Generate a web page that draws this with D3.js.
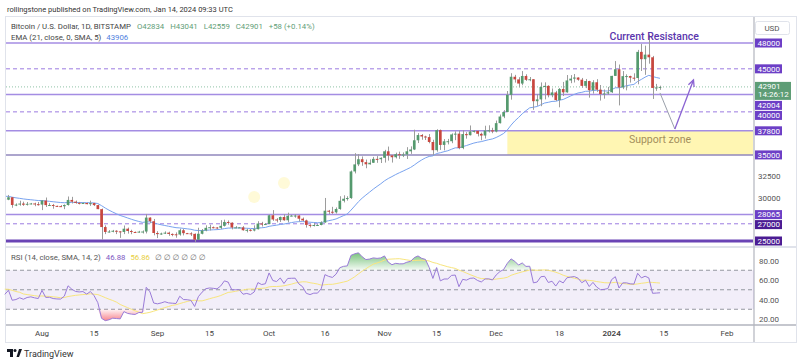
<!DOCTYPE html>
<html>
<head>
<meta charset="utf-8">
<script src="https://cdn.jsdelivr.net/npm/d3@7"></script>
<style>
  body { margin: 0; background: #fff; }
  svg text { font-family: Roboto, "DejaVu Sans", sans-serif; }
</style>
</head>
<body>
<div id="chart"></div>
<script>
// Daily candles, BTC/USD Bitstamp, from 2023-07-22 to 2024-01-14
var first_day = '2023-07-22';

var opens = [
    29910,29800,30080,29180,29230,29350,29210,29320,29360,29280,
    29230,29700,29170,29180,29080,29050,29040,29180,29770,29570,29430,29400,29420,29280,29400,29170,28700,26620,26050,26100,26190,26120,26050,26430,26160,26050,26000,26090,26100,27720,27300,
    25930,25800,25870,25970,25820,25780,25750,26250,25910,25890,25830,25150,25840,26220,26530,26600,26570,26530,26760,27210,27130,26570,26580,26580,26250,26300,26220,26370,27030,26910,
    26970,27990,27500,27430,27790,27410,27930,27950,27960,27590,27390,26870,26760,26860,26860,27150,28520,28400,28330,28720,29670,29910,29990,33080,33900,34500,34160,33910,34090,34540,34500,
    34660,35420,34940,34730,35080,35040,35050,35420,35630,36700,37310,37140,37070,36500,35550,37880,36160,36580,36590,37380,37470,35800,37420,37290,37720,37790,37450,37250,37830,37860,
    37720,38690,39460,39980,41980,44080,43770,43290,44170,43720,43790,41240,41450,42890,43020,41940,42260,41370,42660,42270,43650,43860,43990,43740,43020,43580,42520,43440,42580,42070,42140,
    42280,44180,44950,42840,44150,44160,43970,43930,46970,46120,46650,46340,42780,42834
];
var highs = [
    29990,30350,30100,29370,29680,29570,29530,29420,29450,29530,
    29740,30050,29400,29310,29110,29170,29250,30170,30130,29700,29540,29460,29450,29690,29430,29220,28770,26820,26270,26290,26250,26130,26800,26560,26310,26100,26180,26230,28140,27750,27560,
    26140,25970,26120,26080,25880,26000,26430,26430,25940,26020,25880,26540,26390,26820,26890,26680,26610,27420,27480,27390,27160,26730,26620,26730,26420,26390,26820,27300,27230,27090,
    28060,28590,27660,27840,28130,28290,28040,28110,27990,27730,27480,26940,27100,26960,27290,30000,28610,28970,28900,30200,30310,30200,33190,35200,35100,34820,34460,34480,34770,34860,34720,
    35590,35970,34950,35260,35380,35290,35900,35990,37930,37530,37430,37230,37420,36760,37980,37950,36840,36860,37500,37740,37860,37870,37640,38420,37890,37830,37590,38390,38440,38150,
    38990,39690,40200,42420,44490,44300,44030,44740,44370,44050,43800,42080,43420,43430,43090,42720,42440,42770,43480,44280,44270,44400,44010,43940,43820,43610,43680,43800,43120,42600,42900,
    44190,45900,45500,44740,44360,44200,44480,47200,47900,47690,48970,46500,43250,43041
];
var lows = [
    29640,29740,28860,29050,29100,29080,29120,29260,29040,29110,
    28590,28950,29100,28750,28950,28980,28700,29110,29360,29330,29250,29360,29260,29080,29060,28700,25160,25800,25990,26010,25800,25360,25800,25860,25790,25980,25970,25870,25880,27060,25660,
    25340,25720,25810,25600,25550,25380,25620,25650,25810,25580,24900,25130,25770,26130,26230,26470,26410,26390,26680,26890,26350,26510,26510,26200,26000,26110,26120,26340,26680,26890,
    26950,27340,27160,27210,27360,27170,27870,27710,27290,27300,26560,26570,26690,26810,26820,27120,28100,28150,28190,28630,29480,29690,29890,32850,33700,33730,33450,33880,34060,34080,34060,
    34110,34340,34110,34590,34540,34750,34530,35120,35560,36380,36760,36730,36350,34960,35370,35580,35530,36220,36360,36710,35660,35660,36890,37260,37590,37150,36700,36900,37600,37520,
    37620,38650,39270,39960,41420,43400,42840,43090,43590,43560,40240,40700,40660,41450,41690,41700,41260,40530,41840,42220,43330,43410,43620,42800,42760,41650,42120,42320,41310,41530,41970,
    42200,44180,40750,42640,42500,43400,43600,43200,44750,44300,45600,41500,42440,42559
];
var closes = [
    29800,30080,29180,29230,29350,29210,29320,29360,29280,29230,
    29700,29170,29180,29080,29050,29040,29180,29770,29570,29430,29400,29420,29280,29400,29170,28700,26620,26050,26100,26190,26120,26050,26430,26160,26050,26000,26090,26100,27720,27300,25930,
    25800,25870,25970,25820,25780,25750,26250,25910,25890,25830,25150,25840,26220,26530,26600,26570,26530,26760,27210,27130,26570,26580,26580,26250,26300,26220,26370,27030,26910,26970,
    27990,27500,27430,27790,27410,27930,27950,27960,27590,27390,26870,26760,26860,26860,27150,28520,28400,28330,28720,29670,29910,29990,33080,33900,34500,34160,33910,34090,34540,34500,34660,
    35420,34940,34730,35080,35040,35050,35420,35630,36700,37310,37140,37070,36500,35550,37880,36160,36580,36590,37380,37470,35800,37420,37290,37720,37790,37450,37250,37830,37860,37720,
    38690,39460,39980,41980,44080,43770,43290,44170,43720,43790,41240,41450,42890,43020,41940,42260,41370,42660,42270,43650,43860,43990,43740,43020,43580,42520,43440,42580,42070,42140,42280,
    44180,44950,42840,44150,44160,43970,43930,46970,46120,46650,46340,42780,42834,42901
];
// closes 2023-06-21 .. 2023-07-21, only used to warm up EMA and RSI
var warmup_closes = [
    30000,29900,30690,30550,30470,30270,30690,30080,30450,30470,
    30590,30620,31160,30770,30510,29900,30350,30290,30170,30410,30620,30390,31470,30320,30290,30240,30140,29860,29910,29800,29910
];

// Drawn levels
var solid_levels  = [48000, 42004, 37800, 35000, 28065];
var dashed_levels = [45000, 40000, 27000];
var base_level    = 25000;
var last_price    = 42901;
var support_zone  = [35000, 37800];
var support_start = '2023-12-04';

// Projection arrow
var proj_dates  = ['2024-01-14', '2024-01-18', '2024-01-23'];
var proj_prices = [42200, 38000, 43700];

// Pale yellow dots left on the chart
var dot_dates  = ['2023-09-27', '2023-10-05'];
var dot_prices = [30100, 31750];

// Axis ticks
var price_ticks = [32500, 30000];
var rsi_ticks   = [80, 60, 40, 20];
var rsi_bands   = [70, 50, 30];
var time_dates  = ['2023-08-01','2023-08-15','2023-09-01','2023-09-15','2023-10-01','2023-10-16','2023-11-01','2023-11-15','2023-12-01','2023-12-18','2024-01-01','2024-01-15','2024-02-01'];
var time_labels = ['Aug','15','Sep','15','Oct','16','Nov','15','Dec','18','2024','15','Feb'];

// Criar SVG
var chart_width  = 800;
var chart_height = 364;
var svg = d3.select('#chart')
    .append('svg')
    .attr('width', chart_width)
    .attr('height', chart_height);

var parse = d3.utcParse('%Y-%m-%d');
var day0 = parse(first_day);
var dates = closes.map(function(d, i){ return d3.utcDay.offset(day0, i); });

// Scales
var x_scale = d3.scaleUtc()
    .domain([parse('2023-08-01'), parse('2024-02-01')])
    .range([42, 727]);
var y_scale = d3.scaleLinear()
    .domain([25000, 48000])
    .range([241, 43]);
var rsi_scale = d3.scaleLinear()
    .domain([20, 80])
    .range([319, 260.5]);
var day_w = x_scale(parse('2023-08-02')) - x_scale(parse('2023-08-01'));

// Indicators: EMA 21 and RSI 14 (Wilder) with SMA 14
var all_closes = warmup_closes.concat(closes);
var ema = [], alpha = 2 / 22, prev = all_closes[0];
all_closes.forEach(function(c){ prev = alpha * c + (1 - alpha) * prev; ema.push(prev); });
ema = ema.slice(warmup_closes.length);

var rsi_all = [], up = 0, dn = 0;
for (var i = 1; i < all_closes.length; i++) {
    var ch = all_closes[i] - all_closes[i - 1];
    var u = Math.max(ch, 0), d = Math.max(-ch, 0);
    if (i <= 14) { up += u / 14; dn += d / 14; }
    else { up = (up * 13 + u) / 14; dn = (dn * 13 + d) / 14; }
    rsi_all.push(i >= 14 ? 100 - 100 / (1 + up / dn) : null);
}
var rsi_sma = rsi_all.map(function(v, i){
    if (i < 13 + 13) return null;
    return d3.mean(rsi_all.slice(i - 13, i + 1));
});
var off = warmup_closes.length - 1;
var rsi = rsi_all.slice(off), rsi_ma = rsi_sma.slice(off);

// Frame
svg.append('rect').attr('x', 5.5).attr('y', 16.5).attr('width', 791).attr('height', 326)
    .attr('fill', 'none').attr('stroke', '#e0e3eb');
svg.append('line').attr('x1', 6).attr('x2', 796).attr('y1', 247).attr('y2', 247)
    .attr('stroke', '#e0e3eb').attr('stroke-width', 2);
svg.append('line').attr('x1', 6).attr('x2', 796).attr('y1', 325).attr('y2', 325)
    .attr('stroke', '#b2b5be').attr('stroke-width', 1.5);
svg.append('line').attr('x1', 754).attr('x2', 754).attr('y1', 17).attr('y2', 342)
    .attr('stroke', '#b2b5be').attr('stroke-width', 1.2);

svg.append('defs').append('clipPath').attr('id', 'main-clip')
    .append('rect').attr('x', 6).attr('y', 17).attr('width', 747).attr('height', 229);
var main = svg.append('g').attr('clip-path', 'url(#main-clip)');

// Support zone
main.append('rect')
    .attr('x', x_scale(parse(support_start)))
    .attr('y', y_scale(support_zone[1]))
    .attr('width', 753 - x_scale(parse(support_start)))
    .attr('height', y_scale(support_zone[0]) - y_scale(support_zone[1]))
    .attr('fill', '#fff6b3');

// Level lines
main.selectAll('line.solid')
    .data(solid_levels)
    .enter()
    .append('line')
    .attr('x1', 6).attr('x2', 753)
    .attr('y1', function(d){ return y_scale(d); })
    .attr('y2', function(d){ return y_scale(d); })
    .attr('stroke', function(d){ return d === 35000 ? '#9087bd' : '#a48de3'; })
    .attr('stroke-width', 1.5);
main.selectAll('line.dashed')
    .data(dashed_levels)
    .enter()
    .append('line')
    .attr('x1', 6).attr('x2', 753)
    .attr('y1', function(d){ return y_scale(d); })
    .attr('y2', function(d){ return y_scale(d); })
    .attr('stroke', '#9b7be0')
    .attr('stroke-width', 1)
    .attr('stroke-dasharray', '4,3');
main.append('line')
    .attr('x1', 6).attr('x2', 753)
    .attr('y1', y_scale(base_level)).attr('y2', y_scale(base_level))
    .attr('stroke', '#6a44b5').attr('stroke-width', 3);
main.append('line')
    .attr('x1', 6).attr('x2', 753)
    .attr('y1', y_scale(last_price)).attr('y2', y_scale(last_price))
    .attr('stroke', '#8fc2a6').attr('stroke-width', 1).attr('stroke-dasharray', '1,2');

// Yellow dots
main.selectAll('circle.dot')
    .data(dot_dates)
    .enter()
    .append('circle')
    .attr('cx', function(d){ return x_scale(parse(d)); })
    .attr('cy', function(d, i){ return y_scale(dot_prices[i]); })
    .attr('r', 6)
    .attr('fill', '#fffad8');

// EMA line
main.append('path')
    .datum(ema)
    .attr('d', d3.line()
        .x(function(d, i){ return x_scale(dates[i]); })
        .y(function(d){ return y_scale(d); }))
    .attr('fill', 'none')
    .attr('stroke', '#79a3ef')
    .attr('stroke-width', 1);

// Candles
var candles = main.selectAll('g.candle')
    .data(closes)
    .enter()
    .append('g');
candles.append('line')
    .attr('x1', function(d, i){ return Math.round(x_scale(dates[i])) + 0.5; })
    .attr('x2', function(d, i){ return Math.round(x_scale(dates[i])) + 0.5; })
    .attr('y1', function(d, i){ return y_scale(highs[i]); })
    .attr('y2', function(d, i){ return y_scale(lows[i]); })
    .attr('stroke', '#9c9c9c')
    .attr('stroke-width', 1);
candles.append('rect')
    .attr('x', function(d, i){ return x_scale(dates[i]) - day_w * 0.36; })
    .attr('width', day_w * 0.72)
    .attr('y', function(d, i){ return y_scale(Math.max(opens[i], d)); })
    .attr('height', function(d, i){ return Math.max(1, Math.abs(y_scale(opens[i]) - y_scale(d))); })
    .attr('fill', function(d, i){ return d >= opens[i] ? '#559a6e' : '#c9473f'; });

// Projection arrow
var proj = proj_dates.map(function(d, i){ return [x_scale(parse(d)), y_scale(proj_prices[i])]; });
main.append('line')
    .attr('x1', proj[0][0]).attr('y1', proj[0][1])
    .attr('x2', proj[1][0]).attr('y2', proj[1][1])
    .attr('stroke', '#9aa0aa').attr('stroke-width', 1);
main.append('line')
    .attr('x1', proj[1][0]).attr('y1', proj[1][1])
    .attr('x2', proj[2][0]).attr('y2', proj[2][1])
    .attr('stroke', '#8a63d2').attr('stroke-width', 1.3);
var ang = Math.atan2(proj[2][1] - proj[1][1], proj[2][0] - proj[1][0]);
main.append('path')
    .attr('d', d3.line()([
        [proj[2][0] - 7 * Math.cos(ang - 0.45), proj[2][1] - 7 * Math.sin(ang - 0.45)],
        proj[2],
        [proj[2][0] - 7 * Math.cos(ang + 0.45), proj[2][1] - 7 * Math.sin(ang + 0.45)]
    ]))
    .attr('fill', 'none').attr('stroke', '#8a63d2').attr('stroke-width', 1.3);

// Annotations
main.append('text')
    .text('Current Resistance')
    .attr('x', x_scale(parse('2024-01-13')) - 2)
    .attr('y', y_scale(48000) - 3)
    .attr('font-size', 10.5)
    .attr('font-weight', 500)
    .attr('fill', '#5b36ad')
    .attr('text-anchor', 'middle');
main.append('text')
    .text('Support zone')
    .attr('x', x_scale(parse('2024-01-14')))
    .attr('y', y_scale(36850) + 4)
    .attr('font-size', 10.5)
    .attr('fill', '#a38f5c')
    .attr('text-anchor', 'middle');

// RSI pane
var rsi_g = svg.append('g');
rsi_g.append('rect')
    .attr('x', 6).attr('width', 748)
    .attr('y', rsi_scale(70)).attr('height', rsi_scale(30) - rsi_scale(70))
    .attr('fill', '#7e57c2').attr('fill-opacity', 0.1);
rsi_g.selectAll('line.band')
    .data(rsi_bands)
    .enter()
    .append('line')
    .attr('x1', 6).attr('x2', 753)
    .attr('y1', function(d){ return rsi_scale(d); })
    .attr('y2', function(d){ return rsi_scale(d); })
    .attr('stroke', '#9598a1')
    .attr('stroke-width', 1)
    .attr('stroke-dasharray', '4,3');

var defs = svg.select('defs');
var g_up = defs.append('linearGradient').attr('id', 'gr-up').attr('x1', 0).attr('x2', 0).attr('y1', 0).attr('y2', 1);
g_up.append('stop').attr('offset', '0%').attr('stop-color', '#4caf50').attr('stop-opacity', 0.75);
g_up.append('stop').attr('offset', '100%').attr('stop-color', '#4caf50').attr('stop-opacity', 0.05);
var g_dn = defs.append('linearGradient').attr('id', 'gr-dn').attr('x1', 0).attr('x2', 0).attr('y1', 0).attr('y2', 1);
g_dn.append('stop').attr('offset', '0%').attr('stop-color', '#f23645').attr('stop-opacity', 0.05);
g_dn.append('stop').attr('offset', '100%').attr('stop-color', '#f23645').attr('stop-opacity', 0.6);

rsi_g.append('path')
    .datum(rsi)
    .attr('d', d3.area()
        .x(function(d, i){ return x_scale(dates[i]); })
        .y0(rsi_scale(70))
        .y1(function(d){ return rsi_scale(Math.max(d, 70)); }))
    .attr('fill', 'url(#gr-up)');
rsi_g.append('path')
    .datum(rsi)
    .attr('d', d3.area()
        .x(function(d, i){ return x_scale(dates[i]); })
        .y0(rsi_scale(30))
        .y1(function(d){ return rsi_scale(Math.min(d, 30)); }))
    .attr('fill', 'url(#gr-dn)');
rsi_g.append('path')
    .datum(rsi_ma)
    .attr('d', d3.line()
        .defined(function(d){ return d !== null; })
        .x(function(d, i){ return x_scale(dates[i]); })
        .y(function(d){ return rsi_scale(d); }))
    .attr('fill', 'none').attr('stroke', '#f8e57d').attr('stroke-width', 1);
rsi_g.append('path')
    .datum(rsi)
    .attr('d', d3.line()
        .x(function(d, i){ return x_scale(dates[i]); })
        .y(function(d){ return rsi_scale(d); }))
    .attr('fill', 'none').attr('stroke', '#9a7bd8').attr('stroke-width', 1);

// RSI axis
svg.selectAll('text.rsi-tick')
    .data(rsi_ticks)
    .enter()
    .append('text')
    .text(function(d){ return d.toFixed(2); })
    .attr('x', 759)
    .attr('y', function(d){ return rsi_scale(d) + 3; })
    .attr('font-size', 8)
    .attr('fill', '#555');

// Time axis
svg.selectAll('text.time-tick')
    .data(time_dates)
    .enter()
    .append('text')
    .text(function(d, i){ return time_labels[i]; })
    .attr('x', function(d){ return x_scale(parse(d)); })
    .attr('y', 336)
    .attr('font-size', 8)
    .attr('font-weight', function(d, i){ return time_labels[i] === '2024' ? 600 : 400; })
    .attr('fill', '#444')
    .attr('text-anchor', 'middle');

// Price axis
svg.append('rect').attr('x', 755.5).attr('y', 21.5).attr('width', 34).attr('height', 13).attr('rx', 2)
    .attr('fill', '#fff').attr('stroke', '#e0e3eb');
svg.append('text').text('USD').attr('x', 772).attr('y', 31).attr('font-size', 8)
    .attr('fill', '#555').attr('text-anchor', 'middle');

svg.selectAll('text.price-tick')
    .data(price_ticks)
    .enter()
    .append('text')
    .text(function(d){ return d; })
    .attr('x', 758)
    .attr('y', function(d){ return y_scale(d) + 3; })
    .attr('font-size', 8)
    .attr('fill', '#555');

// Current price tag
var lp_top = y_scale(last_price) - 5;
svg.append('rect').attr('x', 755).attr('y', lp_top).attr('width', 36).attr('height', 18)
    .attr('fill', '#5e9d76');
svg.append('text').text(last_price).attr('x', 758).attr('y', lp_top + 7.5)
    .attr('font-size', 8).attr('fill', '#fff');
svg.append('text').text('14:26:12').attr('x', 758).attr('y', lp_top + 15.5)
    .attr('font-size', 8).attr('fill', '#fff');

// Level tags, pushed down when they overlap
var tags = solid_levels.concat(dashed_levels, [base_level]).sort(function(a, b){ return b - a; });
var tag_h = 9, last_bottom = -Infinity;
tags.forEach(function(v){
    var top = y_scale(v) - tag_h / 2;
    if (y_scale(v) > lp_top && last_bottom < lp_top + 18) last_bottom = Math.max(last_bottom, lp_top + 18);
    top = Math.max(top, last_bottom + 1);
    last_bottom = top + tag_h;
    svg.append('rect')
        .attr('x', 755).attr('y', top).attr('width', 27).attr('height', tag_h)
        .attr('fill', v <= 27000 ? '#4b1c93' : '#6c3fc6');
    svg.append('text').text(v)
        .attr('x', 757.5).attr('y', top + 7.3)
        .attr('font-size', 8).attr('fill', '#fff');
});

// Header
svg.append('text')
    .text('rollingstone published on TradingView.com, Jan 14, 2024 09:33 UTC')
    .attr('x', 7).attr('y', 12)
    .attr('font-size', 7.5).attr('fill', '#333');
var l1 = svg.append('text').attr('x', 11).attr('y', 29).attr('font-size', 7.8).attr('fill', '#444');
l1.append('tspan').text('Bitcoin / U.S. Dollar, 1D, BITSTAMP');
['O42834', 'H43041', 'L42559', 'C42901', '+58 (+0.14%)'].forEach(function(t){
    l1.append('tspan').attr('dx', 6).attr('fill', '#5f9e77').text(t);
});
var l2 = svg.append('text').attr('x', 11).attr('y', 40).attr('font-size', 7.8).attr('fill', '#444');
l2.append('tspan').text('EMA (21, close, 0, SMA, 5)');
l2.append('tspan').attr('dx', 5).attr('fill', '#4f7fe0').text('43906');

var l3 = svg.append('text').attr('x', 11).attr('y', 260).attr('font-size', 7.8).attr('fill', '#555');
l3.append('tspan').text('RSI (14, close, SMA, 14, 2)');
l3.append('tspan').attr('dx', 5).attr('fill', '#7e57c2').text('46.88');
l3.append('tspan').attr('dx', 5).attr('fill', '#e8cf3e').text('56.86');
l3.append('tspan').attr('dx', 5).attr('fill', '#777').text('\u2205 \u2205 \u2205 \u2205 \u2205 \u2205');

// TradingView logo
var logo = svg.append('g').attr('fill', '#131722');
logo.append('path').attr('d', 'M7 349h6v8h-3v-5h-3z');
logo.append('circle').attr('cx', 15).attr('cy', 350.5).attr('r', 1.5);
logo.append('path').attr('d', 'M16.5 357l2.5-8h3l-3 8z');
svg.append('text').text('TradingView').attr('x', 24).attr('y', 356.5)
    .attr('font-size', 9).attr('fill', '#333');
</script>
</body>
